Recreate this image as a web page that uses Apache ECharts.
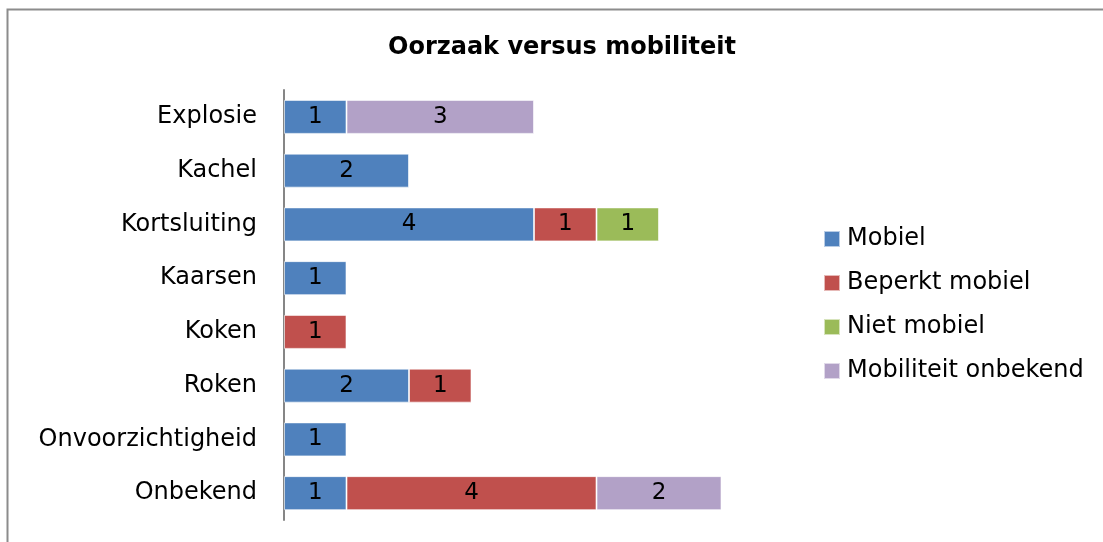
<!DOCTYPE html>
<html>
<head>
<meta charset="utf-8">
<script src="https://cdn.jsdelivr.net/npm/echarts@6/dist/echarts.min.js"></script>
<style>
  html, body { margin: 0; padding: 0; background: #fff; }
  #main { width: 1103px; height: 542px; }
</style>
</head>
<body>
<div id="main"></div>
<script>
const categories = ['Explosie', 'Kachel', 'Kortsluiting', 'Kaarsen', 'Koken', 'Roken', 'Onvoorzichtigheid', 'Onbekend'];
const mobiel = [1, 2, 4, 1, null, 2, 1, 1];
const beperktMobiel = [null, null, 1, null, 1, 1, null, 4];
const nietMobiel = [null, null, 1, null, null, null, null, null];
const mobiliteitOnbekend = [3, null, null, null, null, null, null, 2];

const FONT = 'DejaVu Sans';
const chart = echarts.init(document.getElementById('main'));

function mkSeries(name, data, color) {
  return {
    name: name,
    type: 'bar',
    stack: 'total',
    data: data,
    barWidth: 34,
    itemStyle: { color: color, borderColor: 'rgba(255,255,255,0.6)', borderWidth: 1 },
    label: {
      show: true,
      position: 'inside',
      color: '#000',
      fontFamily: FONT,
      fontSize: 23
    }
  };
}

chart.setOption({
  animation: false,
  backgroundColor: '#fff',
  textStyle: { fontFamily: FONT },
  title: {
    text: 'Oorzaak versus mobiliteit',
    left: 383,
    top: 31,
    textStyle: { fontFamily: FONT, fontSize: 24, fontWeight: 'bold', color: '#000' }
  },
  graphic: [{
    type: 'rect',
    shape: { x: 7.5, y: 9.5, width: 1200, height: 600 },
    style: { fill: null, stroke: '#8c8c8c', lineWidth: 2 },
    silent: true
  }],
  legend: {
    orient: 'vertical',
    left: 818,
    top: 222,
    itemWidth: 16,
    itemHeight: 16,
    itemGap: 20,
    icon: 'rect',
    textStyle: { fontFamily: FONT, fontSize: 24, color: '#000', padding: [0, 0, 0, 2] },
    data: ['Mobiel', 'Beperkt mobiel', 'Niet mobiel', 'Mobiliteit onbekend']
  },
  grid: { left: 284, top: 90, width: 437.5, height: 430 },
  xAxis: {
    type: 'value',
    min: 0,
    max: 7,
    show: false
  },
  yAxis: {
    type: 'category',
    data: categories,
    inverse: true,
    axisLine: { show: true, lineStyle: { color: '#868686', width: 2 } },
    axisTick: { show: false },
    axisLabel: { color: '#000', fontFamily: FONT, fontSize: 24, margin: 27 }
  },
  series: [
    mkSeries('Mobiel', mobiel, '#4F81BD'),
    mkSeries('Beperkt mobiel', beperktMobiel, '#C0504D'),
    mkSeries('Niet mobiel', nietMobiel, '#9BBB59'),
    mkSeries('Mobiliteit onbekend', mobiliteitOnbekend, '#B2A1C7')
  ]
});
</script>
</body>
</html>
